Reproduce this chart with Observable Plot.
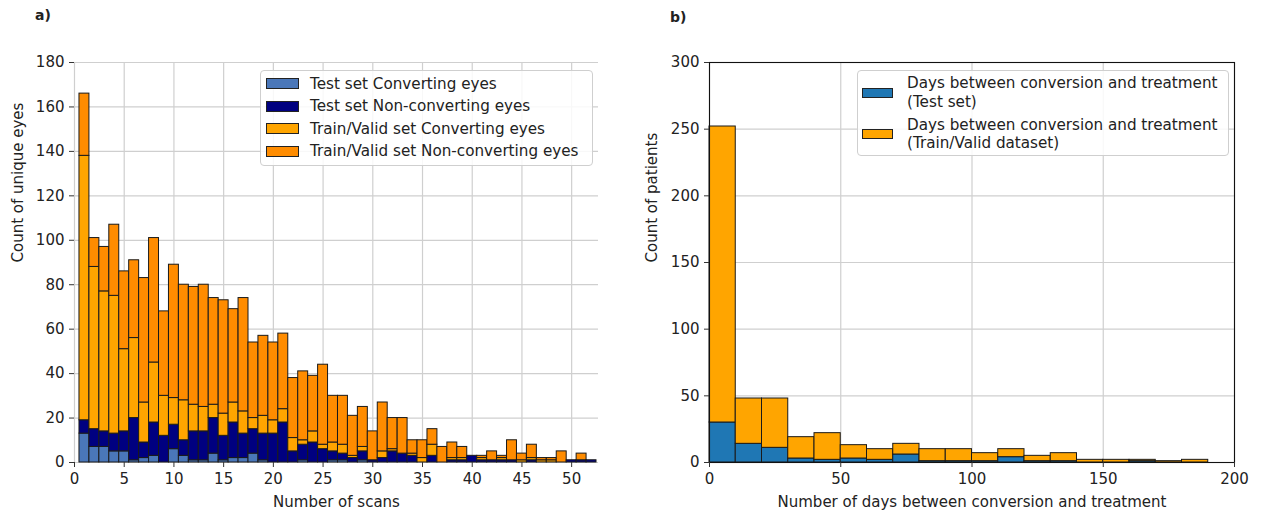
<!DOCTYPE html>
<html>
<head>
<meta charset="utf-8">
<script src="https://cdn.jsdelivr.net/npm/d3@7"></script>
<script src="https://cdn.jsdelivr.net/npm/@observablehq/plot@0.6"></script>
<style>
  body { margin: 0; background: #fff; font-family: "DejaVu Sans", sans-serif; }
  #wrap { position: relative; width: 1262px; height: 517px; overflow: hidden; background: #fff; }
  .panel { position: absolute; top: 0; }
  .tag { position: absolute; font-weight: bold; font-size: 14px; line-height: 16px; color: #222; }
  .legend { position: absolute; background: rgba(255,255,255,0.85); border: 1px solid #cfcfcf; border-radius: 4px; box-sizing: border-box; }
  .sw { position: absolute; border: 1px solid #222; box-sizing: border-box; }
  .lt { position: absolute; font-size: 15.2px; color: #222; white-space: nowrap; line-height: 18px; }
</style>
</head>
<body>
<div id="wrap"></div>
<script>
// ---------- Panel a) data ----------
const scanBins = [1,2,3,4,5,6,7,8,9,10,11,12,13,14,15,16,17,18,19,20,21,22,23,24,25,26,
                  27,28,29,30,31,32,33,34,35,36,37,38,39,40,41,42,43,44,45,46,47,48,49,50,51,52];
const testConverting    = [13,7,7,5,5,1,2,3,0,6,3,1,1,4,1,2,2,4,1,0,0,0,1,0,0,1,
                           1,0,1,0,0,0,0,0,0,0,0,0,0,0,0,0,0,0,0,0,0,0,0,0,0,0];
const testNonConverting = [6,8,7,8,9,19,7,15,12,11,7,13,13,16,11,16,11,11,12,13,18,5,7,9,6,4,
                           3,2,4,1,2,5,4,3,0,3,0,1,1,3,1,1,1,1,0,1,0,0,0,1,1,1];
const trainConverting   = [119,73,63,62,37,36,18,27,18,12,18,12,11,6,10,9,10,5,8,6,6,6,2,5,2,4,
                           4,1,2,0,3,1,0,1,2,5,0,1,1,0,1,0,1,0,1,1,1,1,0,0,0,0];
const trainNonConverting= [28,13,20,32,35,35,56,56,38,60,52,53,55,48,51,42,51,34,36,35,34,27,31,25,36,21,
                           22,18,18,13,22,14,16,6,8,7,7,7,5,0,1,4,1,9,3,6,1,1,5,0,3,0];
const leftNames  = ["Test set Converting eyes", "Test set Non-converting eyes",
                    "Train/Valid set Converting eyes", "Train/Valid set Non-converting eyes"];
const leftColors = ["#4a77b9", "#000080", "#ffa500", "#ff8c00"];
const leftXTicks = [0,5,10,15,20,25,30,35,40,45,50];
const leftYTicks = [0,20,40,60,80,100,120,140,160,180];

// ---------- Panel b) data ----------
const dayBinStart = [0,10,20,30,40,50,60,70,80,90,100,110,120,130,140,150,160,170,180];
const dayBinWidth = 10;
const testDays  = [30,14,11,3,2,3,2,6,1,1,1,4,1,1,0,0,1,0,0];
const trainDays = [222,34,37,16,20,10,8,8,9,9,6,6,4,6,2,2,1,1,2];
const rightNames  = ["Days between conversion and treatment\n(Test set)",
                     "Days between conversion and treatment\n(Train/Valid dataset)"];
const rightColors = ["#1f77b4", "#ffa500"];
const rightXTicks = [0,50,100,150,200];
const rightYTicks = [0,50,100,150,200,250,300];

// ---------- build stacked rows ----------
const leftValues = [testConverting, testNonConverting, trainConverting, trainNonConverting];
const leftRows = [];
scanBins.forEach((k, i) => {
  let cum = 0;
  leftValues.forEach((arr, s) => {
    const v = arr[i];
    if (v > 0) leftRows.push({x1: k - 0.5, x2: k + 0.5, y1: cum, y2: cum + v, series: leftNames[s]});
    cum += v;
  });
});
const rightValues = [testDays, trainDays];
const rightRows = [];
dayBinStart.forEach((b, i) => {
  let cum = 0;
  rightValues.forEach((arr, s) => {
    const v = arr[i];
    if (v > 0) rightRows.push({x1: b, x2: b + dayBinWidth, y1: cum, y2: cum + v, series: rightNames[s]});
    cum += v;
  });
});

const font = {fontFamily: "DejaVu Sans", fontSize: "15px", color: "#222", background: "white", overflow: "visible"};
const gridColor = "#cfcfcf";

const left = Plot.plot({
  width: 631, height: 517,
  marginTop: 62, marginBottom: 55, marginLeft: 74, marginRight: 33,
  style: font,
  x: {domain: [0, 52.7]},
  y: {domain: [0, 180]},
  color: {domain: leftNames, range: leftColors},
  marks: [
    Plot.gridX(leftXTicks, {stroke: gridColor, strokeOpacity: 1, strokeWidth: 1.2}),
    Plot.gridY(leftYTicks, {stroke: gridColor, strokeOpacity: 1, strokeWidth: 1.2}),
    Plot.rect(leftRows, {x1: "x1", x2: "x2", y1: "y1", y2: "y2", fill: "series", stroke: "#1a1a1a", strokeWidth: 1}),
    Plot.axisX({ticks: leftXTicks, tickSize: 5, tickPadding: 6, label: null, stroke: "#333", fontSize: 15}),
    Plot.axisY({ticks: leftYTicks, tickSize: 5, tickPadding: 5, label: null, stroke: "#333", fontSize: 15}),
    Plot.text(["Number of scans"], {frameAnchor: "bottom", dy: 40, lineAnchor: "middle", fontSize: 15, fill: "#222"}),
    Plot.text(["Count of unique eyes"], {frameAnchor: "left", dx: -56, rotate: -90, lineAnchor: "middle", fontSize: 15, fill: "#222"})
  ]
});

const right = Plot.plot({
  width: 631, height: 517,
  marginTop: 62, marginBottom: 55, marginLeft: 78, marginRight: 28,
  style: font,
  x: {domain: [0, 200]},
  y: {domain: [0, 300]},
  color: {domain: rightNames, range: rightColors},
  marks: [
    Plot.gridX(rightXTicks, {stroke: gridColor, strokeOpacity: 1, strokeWidth: 1.2}),
    Plot.gridY(rightYTicks, {stroke: gridColor, strokeOpacity: 1, strokeWidth: 1.2}),
    Plot.rect(rightRows, {x1: "x1", x2: "x2", y1: "y1", y2: "y2", fill: "series", stroke: "#1a1a1a", strokeWidth: 1}),
    Plot.frame({stroke: "#111", strokeWidth: 1.1}),
    Plot.axisX({ticks: rightXTicks, tickSize: 5, tickPadding: 6, label: null, stroke: "#333", fontSize: 15}),
    Plot.axisY({ticks: rightYTicks, tickSize: 5, tickPadding: 5, label: null, stroke: "#333", fontSize: 15}),
    Plot.text(["Number of days between conversion and treatment"], {frameAnchor: "bottom", dy: 40, lineAnchor: "middle", fontSize: 15, fill: "#222"}),
    Plot.text(["Count of patients"], {frameAnchor: "left", dx: -57, rotate: -90, lineAnchor: "middle", fontSize: 15, fill: "#222"})
  ]
});

const wrap = document.getElementById("wrap");
left.classList.add("panel"); left.style.left = "0px"; left.style.position = "absolute";
right.classList.add("panel"); right.style.left = "631px"; right.style.position = "absolute";
wrap.appendChild(left);
wrap.appendChild(right);

function addDiv(cls, css, text) {
  const d = document.createElement("div");
  d.className = cls;
  Object.assign(d.style, css);
  if (text != null) d.textContent = text;
  wrap.appendChild(d);
  return d;
}

addDiv("tag", {left: "35px", top: "7px"}, "a)");
addDiv("tag", {left: "670px", top: "9px"}, "b)");

// Legend a)
addDiv("legend", {left: "260px", top: "70px", width: "333px", height: "96px"});
const leftCenters = [83.5, 106, 128.5, 151];
leftNames.forEach((name, i) => {
  addDiv("sw", {left: "266px", top: (leftCenters[i] - 5.5) + "px", width: "33px", height: "11px", background: leftColors[i]});
  addDiv("lt", {left: "310px", top: (leftCenters[i] - 9) + "px"}, name);
});

// Legend b)
addDiv("legend", {left: "857px", top: "70px", width: "372px", height: "86px"});
const rightCenters = [92.5, 134];
rightNames.forEach((name, i) => {
  addDiv("sw", {left: "862px", top: (rightCenters[i] - 5) + "px", width: "31px", height: "10px", background: rightColors[i]});
  const t = addDiv("lt", {left: "907px", top: (rightCenters[i] - 18.5) + "px", whiteSpace: "pre", lineHeight: "18.5px"}, name);
});
</script>
</body>
</html>
